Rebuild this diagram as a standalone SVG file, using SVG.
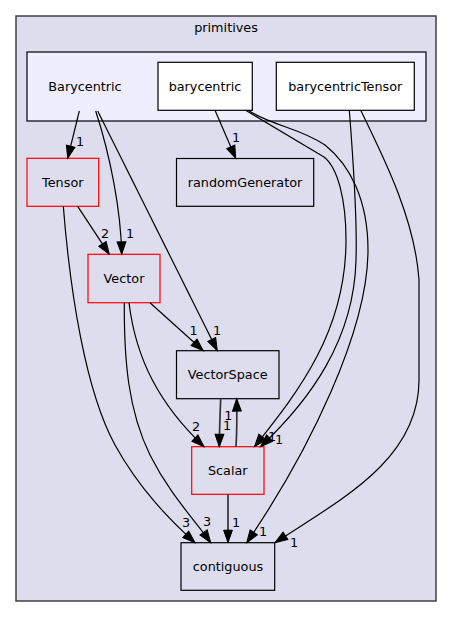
<svg xmlns="http://www.w3.org/2000/svg" width="452" height="617" viewBox="0 0 452 617">
<style>
text{font-family:"DejaVu Sans","Liberation Sans",sans-serif;font-size:12.8px;fill:#000;text-anchor:middle}
.node{stroke:#000;stroke-width:1.2;fill:#ddddee}
.red{stroke:#ff0000;stroke-width:1.2;fill:#ddddee}
.white{stroke:#000;stroke-width:1.2;fill:#ffffff}
.edge{fill:none;stroke:#000;stroke-width:1.2}
.thick{stroke:#333;stroke-width:1.7}
</style>
<defs>
<marker id="ah" markerUnits="userSpaceOnUse" viewBox="-1 -1 15 11" markerWidth="15" markerHeight="11" refX="12.5" refY="4.4" orient="auto" overflow="visible">
<path d="M0,0 L12.5,4.4 L0,8.8 Z" fill="#000" stroke="#000" stroke-width="1"/>
</marker>
</defs>
<rect width="452" height="617" fill="#ffffff"/>
<g id="cluster_primitives">
<rect x="16" y="16" width="420" height="585" fill="#ddddee" stroke="#404040" stroke-width="1.5"/>
<text x="226" y="32">primitives</text>
</g>
<g id="cluster_Barycentric">
<rect x="27" y="52" width="399" height="69" fill="#eeeeff" stroke="#000" stroke-width="1.2"/>
<text x="85" y="90.5">Barycentric</text>
</g>
<g id="node_barycentric">
<rect class="white" x="158" y="62.3" width="94.3" height="48"/>
<text x="205" y="90.5">barycentric</text>
</g>
<g id="node_barycentricTensor">
<rect class="white" x="276.3" y="62.3" width="138" height="48"/>
<text x="345.3" y="90.5">barycentricTensor</text>
</g>
<g id="node_Tensor">
<rect class="red" x="27" y="158.3" width="71.7" height="48"/>
<text x="62.8" y="186.7">Tensor</text>
</g>
<g id="node_randomGenerator">
<rect class="node" x="176.5" y="158.5" width="137.2" height="47.8"/>
<text x="245" y="186.7">randomGenerator</text>
</g>
<g id="node_Vector">
<rect class="red" x="88" y="254.3" width="72" height="48.4"/>
<text x="124" y="282.5">Vector</text>
</g>
<g id="node_VectorSpace">
<rect class="node" x="176.5" y="350.7" width="102.5" height="48"/>
<text x="227.7" y="378.8">VectorSpace</text>
</g>
<g id="node_Scalar">
<rect class="red" x="191.7" y="446.7" width="72.3" height="47.6"/>
<text x="227.8" y="474.6">Scalar</text>
</g>
<g id="node_contiguous">
<rect class="node" x="181" y="542.7" width="93.7" height="47.6"/>
<text x="228" y="570.5">contiguous</text>
</g>
<g id="edges">
<path class="edge" marker-end="url(#ah)" d="M79.3,111 L67.7,158.3"/>
<text x="80" y="146">1</text>
<path class="edge" marker-end="url(#ah)" d="M95.7,111 C110,155 121,210 121.7,254.3"/>
<text x="130" y="238">1</text>
<path class="edge" marker-end="url(#ah)" d="M97.7,111 L217.3,350.7"/>
<text x="217" y="335">1</text>
<path class="edge" marker-end="url(#ah)" d="M215,110.3 L235.7,158.3"/>
<text x="236" y="142">1</text>
<path class="edge" marker-end="url(#ah)" d="M77.7,206.3 L109.3,254.3"/>
<text x="105" y="238">2</text>
<path class="edge" marker-end="url(#ah)" d="M63.3,206.3 C70,290 85,390 115,445 C140,490 170,520 195,542.7"/>
<text x="186" y="527">3</text>
<path class="edge" marker-end="url(#ah)" d="M124.3,302.7 C124,360 128,410 150,455 C170,495 195,520 210.7,542.7"/>
<text x="207" y="526">3</text>
<path class="edge" marker-end="url(#ah)" d="M129,302.7 C136,360 160,405 204,446.7"/>
<text x="196" y="431">2</text>
<path class="edge" marker-end="url(#ah)" d="M150,302.7 L203.3,350.7"/>
<text x="193.7" y="335">1</text>
<path class="edge thick" marker-end="url(#ah)" d="M220.7,398.7 C220,415 219.5,430 219.3,446.7"/>
<text x="227" y="429.5">1</text>
<path class="edge thick" marker-end="url(#ah)" d="M236,446.7 C237,430 237,415 236.7,398.7"/>
<text x="228.3" y="420">1</text>
<path class="edge thick" marker-end="url(#ah)" d="M228,494.3 L228,542.7"/>
<text x="236" y="527">1</text>
<path class="edge" marker-end="url(#ah)" d="M245.7,110.3 L324,157 C338,168 346,200 346,240 C346,330 300,390 254.5,446.7"/>
<text x="272" y="441">1</text>
<path class="edge" marker-end="url(#ah)" d="M248.3,110.3 C270,125 300,128 325,145 C350,165 368,200 368,250 C368,330 310,450 246.7,542.7"/>
<text x="263" y="536">1</text>
<path class="edge" marker-end="url(#ah)" d="M349.3,110.3 C354,170 357,230 356,260 C354,340 310,400 260.5,446.7"/>
<text x="279" y="444">1</text>
<path class="edge" marker-end="url(#ah)" d="M360.7,110.3 C385,160 415,220 419,280 L419,380 C419,460 340,500 275,542.7"/>
<text x="294" y="547">1</text>
</g>
</svg>
